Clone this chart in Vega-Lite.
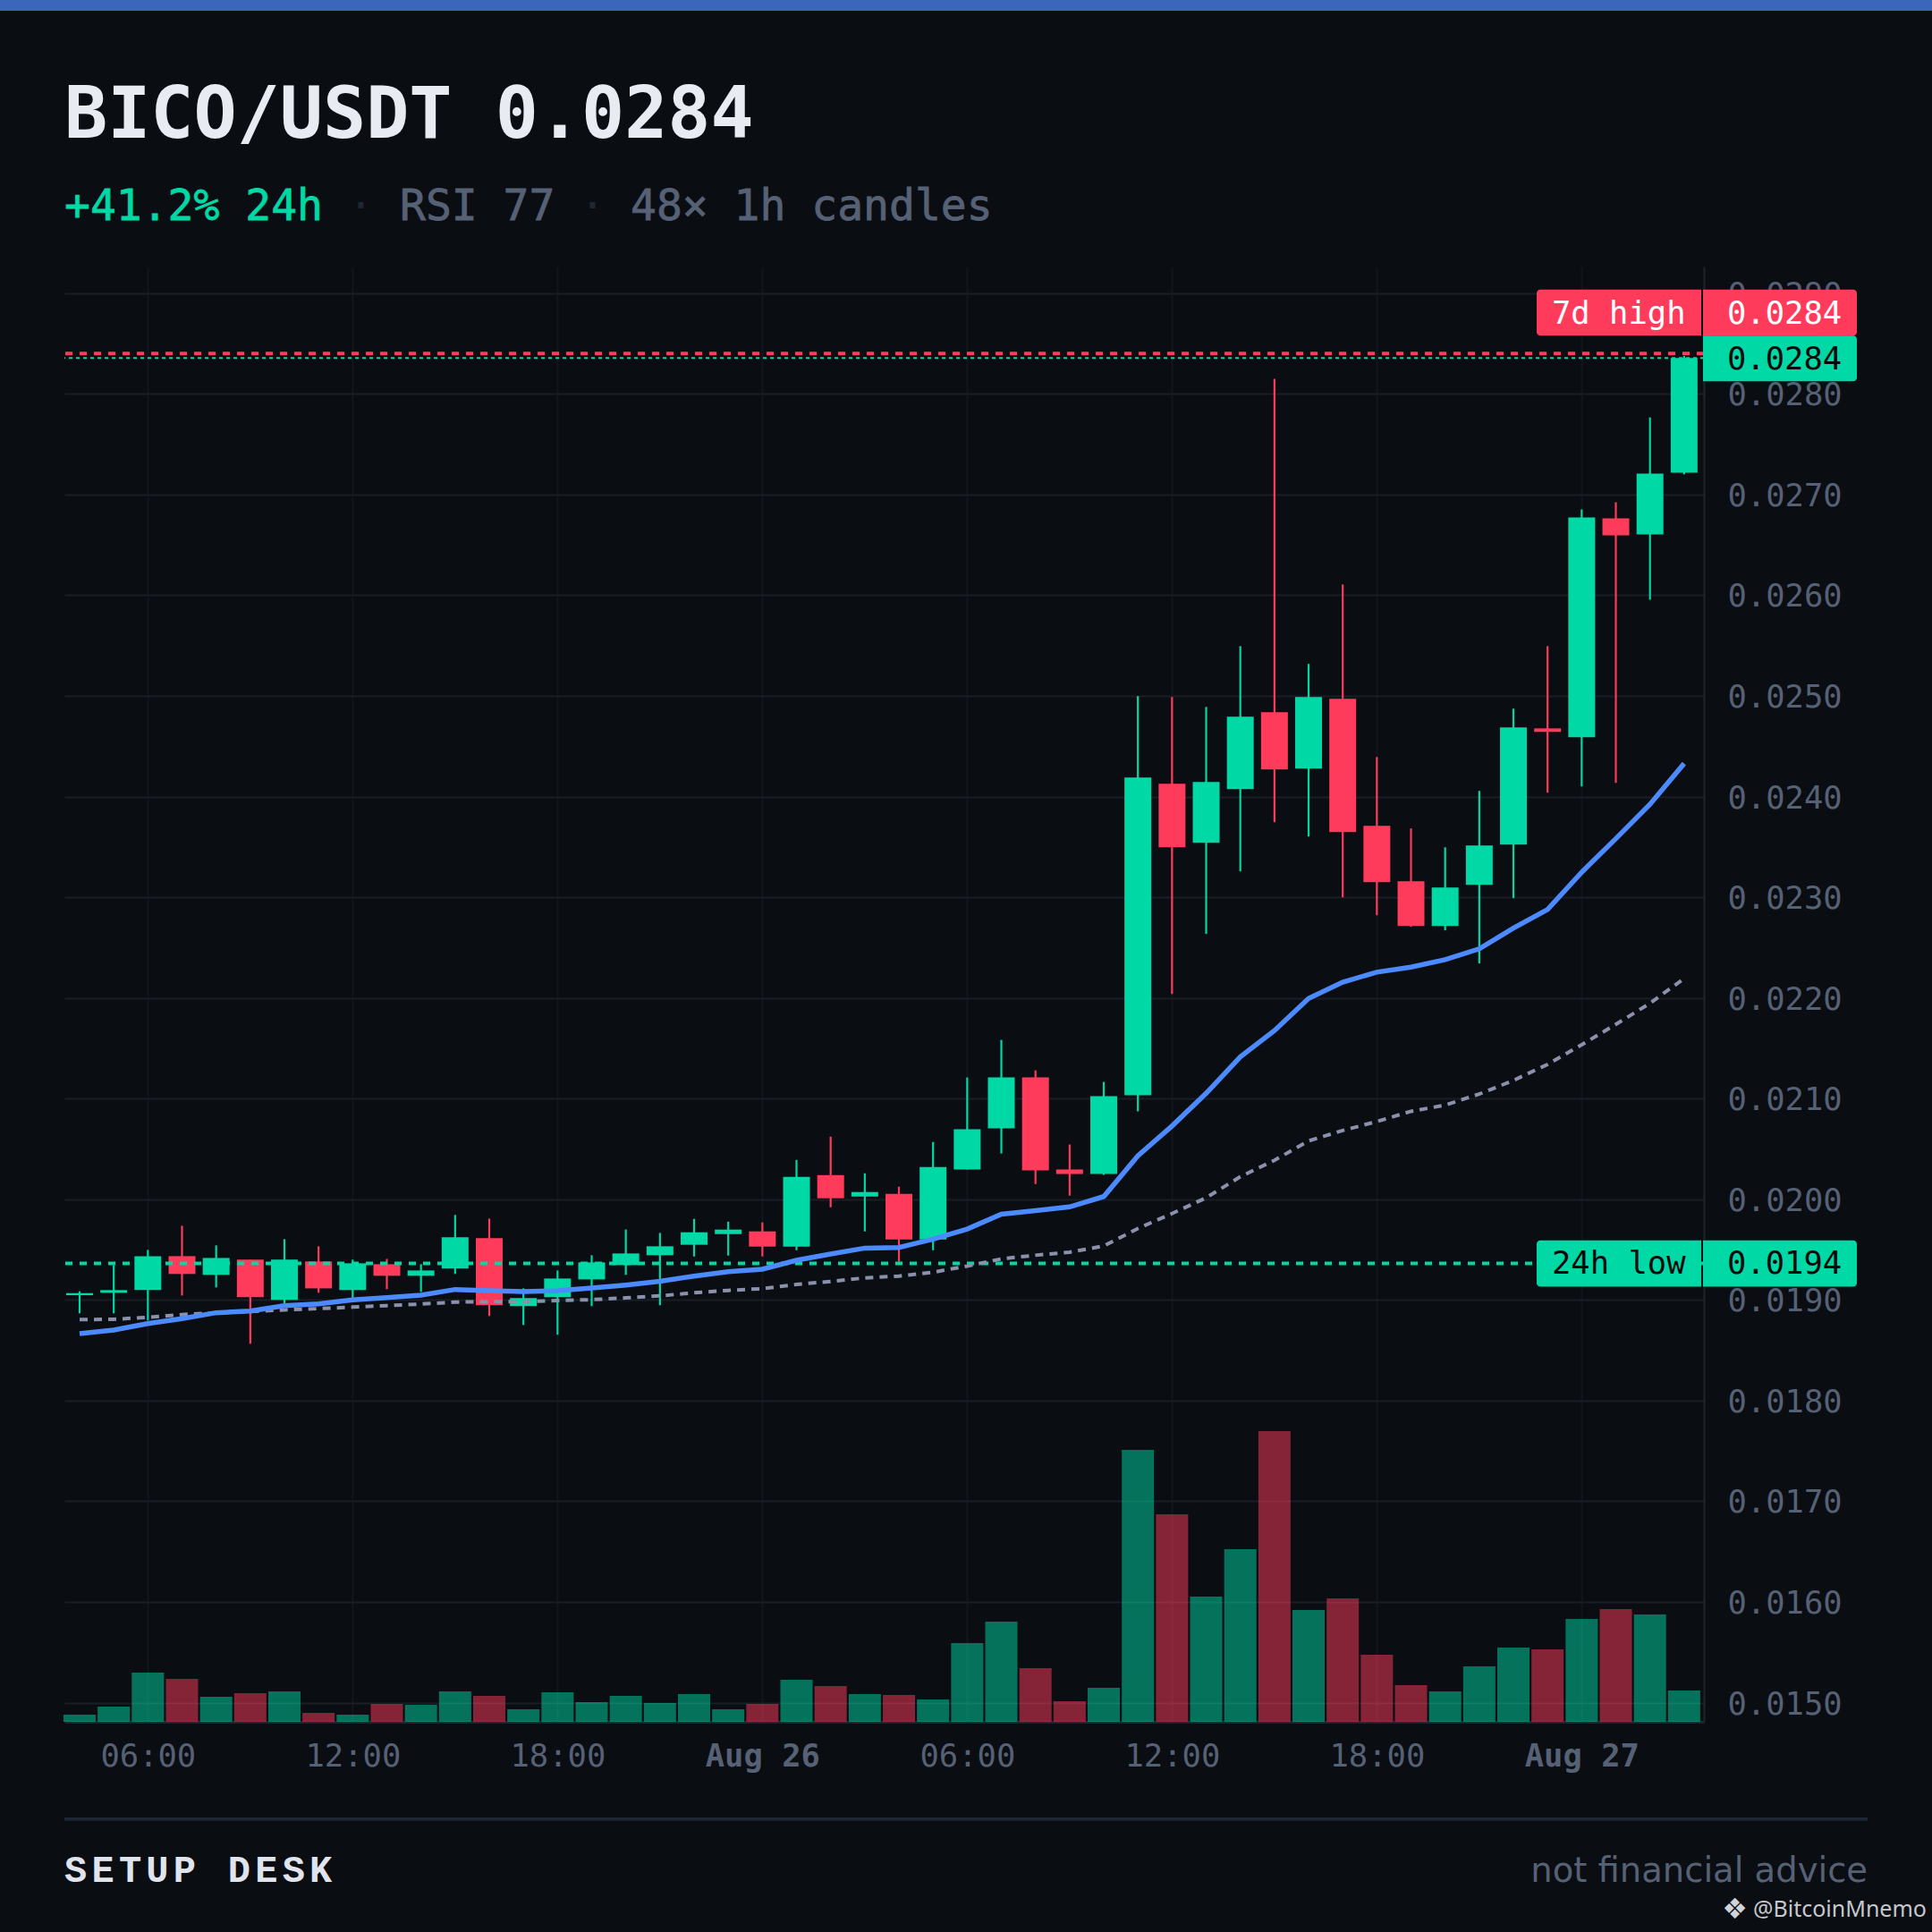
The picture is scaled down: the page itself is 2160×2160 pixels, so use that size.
{"$schema":"https://vega.github.io/schema/vega-lite/v6.json","width":1833,"height":1627,"autosize":{"type":"none"},"padding":{"left":72,"top":298,"right":255,"bottom":235},"background":"#0a0d12","config":{"view":{"stroke":null}},
"datasets":{"candles":[
{"t":"2025-08-25T04:00:00Z","o":0.019047,"h":0.019086,"l":0.018867,"c":0.019068,"dir":"up","vol":8,"ema20":0.018666,"ema50":0.018805},
{"t":"2025-08-25T05:00:00Z","o":0.019071,"h":0.019346,"l":0.018867,"c":0.019098,"dir":"up","vol":17,"ema20":0.018701,"ema50":0.018808},
{"t":"2025-08-25T06:00:00Z","o":0.019098,"h":0.019497,"l":0.018796,"c":0.019435,"dir":"up","vol":55,"ema20":0.018766,"ema50":0.018828},
{"t":"2025-08-25T07:00:00Z","o":0.019435,"h":0.019737,"l":0.019044,"c":0.019258,"dir":"down","vol":48,"ema20":0.018814,"ema50":0.018855},
{"t":"2025-08-25T08:00:00Z","o":0.019249,"h":0.019542,"l":0.019124,"c":0.019417,"dir":"up","vol":28,"ema20":0.018873,"ema50":0.018873},
{"t":"2025-08-25T09:00:00Z","o":0.0194,"h":0.0194,"l":0.018565,"c":0.019027,"dir":"down","vol":32,"ema20":0.01889,"ema50":0.018885},
{"t":"2025-08-25T10:00:00Z","o":0.019,"h":0.019604,"l":0.018962,"c":0.0194,"dir":"up","vol":34,"ema20":0.018944,"ema50":0.018902},
{"t":"2025-08-25T11:00:00Z","o":0.019382,"h":0.019533,"l":0.019071,"c":0.019115,"dir":"down","vol":10,"ema20":0.018962,"ema50":0.018914},
{"t":"2025-08-25T12:00:00Z","o":0.019098,"h":0.0194,"l":0.019018,"c":0.019364,"dir":"up","vol":8,"ema20":0.019,"ema50":0.018929},
{"t":"2025-08-25T13:00:00Z","o":0.019355,"h":0.019408,"l":0.019107,"c":0.01924,"dir":"down","vol":20,"ema20":0.019024,"ema50":0.018944},
{"t":"2025-08-25T14:00:00Z","o":0.01924,"h":0.019355,"l":0.01908,"c":0.019293,"dir":"up","vol":19,"ema20":0.019047,"ema50":0.018959},
{"t":"2025-08-25T15:00:00Z","o":0.019311,"h":0.019844,"l":0.019258,"c":0.019622,"dir":"up","vol":34,"ema20":0.019104,"ema50":0.018979},
{"t":"2025-08-25T16:00:00Z","o":0.019613,"h":0.019808,"l":0.01884,"c":0.018947,"dir":"down","vol":29,"ema20":0.019092,"ema50":0.018982},
{"t":"2025-08-25T17:00:00Z","o":0.018938,"h":0.019115,"l":0.018751,"c":0.019018,"dir":"up","vol":14,"ema20":0.019083,"ema50":0.018985},
{"t":"2025-08-25T18:00:00Z","o":0.019027,"h":0.019293,"l":0.018654,"c":0.019213,"dir":"up","vol":33,"ema20":0.019092,"ema50":0.018994},
{"t":"2025-08-25T19:00:00Z","o":0.019204,"h":0.019444,"l":0.018938,"c":0.019373,"dir":"up","vol":22,"ema20":0.019118,"ema50":0.019003},
{"t":"2025-08-25T20:00:00Z","o":0.019346,"h":0.0197,"l":0.019249,"c":0.019462,"dir":"up","vol":29,"ema20":0.019148,"ema50":0.019021},
{"t":"2025-08-25T21:00:00Z","o":0.019444,"h":0.019666,"l":0.018947,"c":0.019533,"dir":"up","vol":21,"ema20":0.019185,"ema50":0.019041},
{"t":"2025-08-25T22:00:00Z","o":0.019548,"h":0.019805,"l":0.019432,"c":0.019672,"dir":"up","vol":31,"ema20":0.019237,"ema50":0.019071},
{"t":"2025-08-25T23:00:00Z","o":0.019654,"h":0.019778,"l":0.019441,"c":0.019699,"dir":"up","vol":14,"ema20":0.019281,"ema50":0.019095},
{"t":"2025-08-26T00:00:00Z","o":0.019681,"h":0.01977,"l":0.019432,"c":0.01953,"dir":"down","vol":20,"ema20":0.019305,"ema50":0.019112},
{"t":"2025-08-26T01:00:00Z","o":0.01953,"h":0.020391,"l":0.019494,"c":0.020222,"dir":"up","vol":47,"ema20":0.019394,"ema50":0.019154},
{"t":"2025-08-26T02:00:00Z","o":0.02024,"h":0.020622,"l":0.01992,"c":0.02001,"dir":"down","vol":40,"ema20":0.019456,"ema50":0.019184},
{"t":"2025-08-26T03:00:00Z","o":0.020027,"h":0.020258,"l":0.019681,"c":0.020072,"dir":"up","vol":31,"ema20":0.019515,"ema50":0.019219},
{"t":"2025-08-26T04:00:00Z","o":0.020054,"h":0.020125,"l":0.019379,"c":0.019601,"dir":"down","vol":30,"ema20":0.019521,"ema50":0.019237},
{"t":"2025-08-26T05:00:00Z","o":0.019601,"h":0.020569,"l":0.019494,"c":0.02032,"dir":"up","vol":25,"ema20":0.019604,"ema50":0.019275},
{"t":"2025-08-26T06:00:00Z","o":0.020296,"h":0.02121,"l":0.020296,"c":0.020695,"dir":"up","vol":88,"ema20":0.019704,"ema50":0.019337},
{"t":"2025-08-26T07:00:00Z","o":0.020704,"h":0.021583,"l":0.020455,"c":0.02121,"dir":"up","vol":112,"ema20":0.019852,"ema50":0.019408},
{"t":"2025-08-26T08:00:00Z","o":0.02121,"h":0.021281,"l":0.020151,"c":0.020287,"dir":"down","vol":60,"ema20":0.019888,"ema50":0.019444},
{"t":"2025-08-26T09:00:00Z","o":0.020296,"h":0.020544,"l":0.020036,"c":0.020251,"dir":"down","vol":23,"ema20":0.019924,"ema50":0.019474},
{"t":"2025-08-26T10:00:00Z","o":0.020251,"h":0.021166,"l":0.020242,"c":0.021024,"dir":"up","vol":38,"ema20":0.020027,"ema50":0.019536},
{"t":"2025-08-26T11:00:00Z","o":0.021033,"h":0.024997,"l":0.020873,"c":0.024189,"dir":"up","vol":304,"ema20":0.020432,"ema50":0.01971},
{"t":"2025-08-26T12:00:00Z","o":0.024127,"h":0.024988,"l":0.02204,"c":0.023496,"dir":"down","vol":232,"ema20":0.020728,"ema50":0.019858},
{"t":"2025-08-26T13:00:00Z","o":0.023541,"h":0.02489,"l":0.022635,"c":0.024145,"dir":"up","vol":140,"ema20":0.021053,"ema50":0.020015},
{"t":"2025-08-26T14:00:00Z","o":0.024074,"h":0.025494,"l":0.023257,"c":0.024793,"dir":"up","vol":193,"ema20":0.021414,"ema50":0.020224},
{"t":"2025-08-26T15:00:00Z","o":0.024837,"h":0.02815,"l":0.023745,"c":0.024269,"dir":"down","vol":325,"ema20":0.021675,"ema50":0.020387},
{"t":"2025-08-26T16:00:00Z","o":0.024278,"h":0.025317,"l":0.023603,"c":0.024988,"dir":"up","vol":125,"ema20":0.021995,"ema50":0.02058},
{"t":"2025-08-26T17:00:00Z","o":0.02497,"h":0.026106,"l":0.022999,"c":0.023647,"dir":"down","vol":138,"ema20":0.022157,"ema50":0.020683},
{"t":"2025-08-26T18:00:00Z","o":0.023709,"h":0.024393,"l":0.022821,"c":0.02315,"dir":"down","vol":75,"ema20":0.022256,"ema50":0.020772},
{"t":"2025-08-26T19:00:00Z","o":0.023159,"h":0.023683,"l":0.022706,"c":0.022715,"dir":"down","vol":41,"ema20":0.022306,"ema50":0.020874},
{"t":"2025-08-26T20:00:00Z","o":0.022715,"h":0.023496,"l":0.022671,"c":0.023097,"dir":"up","vol":34,"ema20":0.02238,"ema50":0.020935},
{"t":"2025-08-26T21:00:00Z","o":0.023123,"h":0.024056,"l":0.022342,"c":0.023514,"dir":"up","vol":62,"ema20":0.022487,"ema50":0.021045},
{"t":"2025-08-26T22:00:00Z","o":0.023523,"h":0.024873,"l":0.02299,"c":0.024686,"dir":"up","vol":83,"ema20":0.022694,"ema50":0.02118},
{"t":"2025-08-26T23:00:00Z","o":0.024677,"h":0.025494,"l":0.024038,"c":0.024642,"dir":"down","vol":81,"ema20":0.022878,"ema50":0.02134},
{"t":"2025-08-27T00:00:00Z","o":0.024589,"h":0.026852,"l":0.0241,"c":0.026772,"dir":"up","vol":115,"ema20":0.023248,"ema50":0.021535},
{"t":"2025-08-27T01:00:00Z","o":0.026763,"h":0.026923,"l":0.024136,"c":0.026594,"dir":"down","vol":126,"ema20":0.023582,"ema50":0.021737},
{"t":"2025-08-27T02:00:00Z","o":0.026603,"h":0.027766,"l":0.025955,"c":0.027207,"dir":"up","vol":120,"ema20":0.023923,"ema50":0.021947},
{"t":"2025-08-27T03:00:00Z","o":0.027216,"h":0.028376,"l":0.0272,"c":0.028355,"dir":"up","vol":35,"ema20":0.024328,"ema50":0.022192}
],
"tags":[
{"label":"7d high","value":"0.0284","dir":"down","top":0.029036,"bottom":0.028577,"mid":0.028805},
{"label":"","value":"0.0284","dir":"up","top":0.028577,"bottom":0.028124,"mid":0.02835},
{"label":"24h low","value":"0.0194","dir":"up","top":0.019592,"bottom":0.019133,"mid":0.019364}
]},
"data":{"name":"candles"},
"resolve":{"scale":{"y":"independent"}},
"layer":[
{"mark":{"type":"bar","width":36,"opacity":0.5},
 "encoding":{
  "x":{"field":"t","type":"temporal","scale":{"type":"utc","padding":0,"domain":[1756092798000,1756265688000]},
   "axis":{"title":null,"values":[1756101600000,1756123200000,1756144800000,1756166400000,1756188000000,1756209600000,1756231200000,1756252800000],"labelExpr":"utchours(datum.value)==0?utcFormat(datum.value,'%b %d'):utcFormat(datum.value,'%H:%M')","labelFont":"DejaVu Sans Mono","labelFontSize":35.5,"labelColor":"#566175","labelFontWeight":{"condition":{"test":"utchours(datum.value)==0","value":"bold"},"value":"normal"},"labelPadding":21,"labelOverlap":false,"labelFlush":false,"ticks":false,"grid":true,"gridColor":"#12161c","gridWidth":2,"domainColor":"#1f2630","domainWidth":3}},
  "y":{"field":"vol","type":"quantitative","stack":null,"scale":{"domain":[0,1627],"nice":false,"zero":true},"axis":null},
  "color":{"field":"dir","type":"nominal","scale":{"domain":["up","down"],"range":["#00d9a5","#ff3b5c"]},"legend":null}}},
{"layer":[
 {"mark":{"type":"rule","strokeWidth":2.2},
  "encoding":{
   "x":{"field":"t","type":"temporal","scale":{"type":"utc","padding":0,"domain":[1756092798000,1756265688000]}},
   "y":{"field":"l","type":"quantitative","scale":{"domain":[0.01481,0.029264],"nice":false,"zero":false},
    "axis":{"title":null,"orient":"right","values":[0.015,0.016,0.017,0.018,0.019,0.02,0.021,0.022,0.023,0.024,0.025,0.026,0.027,0.028,0.029],"format":".4f","labelFont":"DejaVu Sans Mono","labelFontSize":35.5,"labelColor":"#566175","labelPadding":26,"labelOffset":1.5,"labelAlign":"left","labelOverlap":false,"labelFlush":false,"ticks":false,"grid":true,"gridColor":"#1a1e24","gridWidth":2,"domainColor":"#1f2630","domainWidth":2}},
   "y2":{"field":"h"},
   "color":{"field":"dir","type":"nominal","legend":null}}},
 {"mark":{"type":"bar","width":30},
  "encoding":{
   "x":{"field":"t","type":"temporal","scale":{"type":"utc","padding":0,"domain":[1756092798000,1756265688000]}},
   "y":{"field":"o","type":"quantitative"},
   "y2":{"field":"c"},
   "color":{"field":"dir","type":"nominal","legend":null}}},
 {"data":{"values":[{"price":0.0284}]},"mark":{"type":"rule","color":"#ff3b5c","strokeWidth":4,"strokeDash":[8,8]},"encoding":{"y":{"field":"price","type":"quantitative"}}},
 {"data":{"values":[{"price":0.028355}]},"mark":{"type":"rule","color":"#00d9a5","strokeWidth":2,"strokeDash":[4,4]},"encoding":{"y":{"field":"price","type":"quantitative"}}},
 {"data":{"values":[{"price":0.019364}]},"mark":{"type":"rule","color":"#00d9a5","strokeWidth":4,"strokeDash":[8,8]},"encoding":{"y":{"field":"price","type":"quantitative"}}},
 {"mark":{"type":"line","color":"#8b91ac","strokeWidth":4,"strokeDash":[9,7]},
  "encoding":{"x":{"field":"t","type":"temporal","scale":{"type":"utc","padding":0,"domain":[1756092798000,1756265688000]}},"y":{"field":"ema50","type":"quantitative"}}},
 {"mark":{"type":"line","color":"#4c8bff","strokeWidth":5.5},
  "encoding":{"x":{"field":"t","type":"temporal","scale":{"type":"utc","padding":0,"domain":[1756092798000,1756265688000]}},"y":{"field":"ema20","type":"quantitative"}}},
 {"data":{"name":"tags"},"transform":[{"filter":"datum.label!==''"}],"mark":{"type":"rect","cornerRadiusTopLeft":4,"cornerRadiusBottomLeft":4},
  "encoding":{"x":{"value":1646},"x2":{"value":1830},"y":{"field":"top","type":"quantitative"},"y2":{"field":"bottom"},"color":{"field":"dir","type":"nominal","legend":null}}},
 {"data":{"name":"tags"},"mark":{"type":"rect","cornerRadiusTopRight":4,"cornerRadiusBottomRight":4},
  "encoding":{"x":{"value":1832},"x2":{"value":2004},"y":{"field":"top","type":"quantitative"},"y2":{"field":"bottom"},"color":{"field":"dir","type":"nominal","legend":null}}},
 {"data":{"name":"tags"},"mark":{"type":"text","font":"DejaVu Sans Mono","fontSize":35.5,"align":"left","baseline":"middle","dy":1},
  "encoding":{"x":{"value":1663},"y":{"field":"mid","type":"quantitative"},"text":{"field":"label"},"color":{"condition":{"test":"datum.dir==='down'","value":"#ffffff"},"value":"#05080a"}}},
 {"data":{"name":"tags"},"mark":{"type":"text","font":"DejaVu Sans Mono","fontSize":35.5,"align":"left","baseline":"middle","dy":1},
  "encoding":{"x":{"value":1859},"y":{"field":"mid","type":"quantitative"},"text":{"field":"value"},"color":{"condition":{"test":"datum.dir==='down'","value":"#ffffff"},"value":"#05080a"}}},
 {"data":{"values":[{"s":""}]},"mark":{"type":"rect","color":"#3a67ba"},"encoding":{"x":{"value":-72},"x2":{"value":2088},"y":{"value":-298},"y2":{"value":-286}}},
 {"data":{"values":[{"s":""}]},"mark":{"type":"rect","color":"#1f2732"},"encoding":{"x":{"value":0},"x2":{"value":2016},"y":{"value":1734},"y2":{"value":1737.5}}},
 {"data":{"values":[{"s":"BICO/USDT 0.0284"}]},"mark":{"type":"text","font":"DejaVu Sans Mono","fontWeight":"bold","fontSize":80,"align":"left","baseline":"alphabetic","color":"#e8ebf2"},"encoding":{"x":{"value":0},"y":{"value":-144},"text":{"field":"s"}}},
 {"data":{"values":[{"s":"+41.2% 24h"}]},"mark":{"type":"text","font":"DejaVu Sans Mono","fontSize":48,"align":"left","baseline":"alphabetic","color":"#00d9a5","stroke":"#00d9a5","strokeWidth":0.8},"encoding":{"x":{"value":0},"y":{"value":-52},"text":{"field":"s"}}},
 {"data":{"values":[{"s":"·"}]},"mark":{"type":"text","font":"DejaVu Sans Mono","fontSize":48,"align":"left","baseline":"alphabetic","color":"#1e2733"},"encoding":{"x":{"value":317},"y":{"value":-52},"text":{"field":"s"}}},
 {"data":{"values":[{"s":"RSI 77"}]},"mark":{"type":"text","font":"DejaVu Sans Mono","fontSize":48,"align":"left","baseline":"alphabetic","color":"#566175","stroke":"#566175","strokeWidth":0.8},"encoding":{"x":{"value":375},"y":{"value":-52},"text":{"field":"s"}}},
 {"data":{"values":[{"s":"·"}]},"mark":{"type":"text","font":"DejaVu Sans Mono","fontSize":48,"align":"left","baseline":"alphabetic","color":"#1e2733"},"encoding":{"x":{"value":576},"y":{"value":-52},"text":{"field":"s"}}},
 {"data":{"values":[{"s":"48× 1h candles"}]},"mark":{"type":"text","font":"DejaVu Sans Mono","fontSize":48,"align":"left","baseline":"alphabetic","color":"#566175","stroke":"#566175","strokeWidth":0.8},"encoding":{"x":{"value":633},"y":{"value":-52},"text":{"field":"s"}}},
 {"data":{"values":[{"s":"S\u200a\u200aE\u200a\u200aT\u200a\u200aU\u200a\u200aP\u200a\u200a \u200a\u200aD\u200a\u200aE\u200a\u200aS\u200a\u200aK"}]},"mark":{"type":"text","font":"Liberation Mono","fontWeight":"bold","fontSize":42,"align":"left","baseline":"alphabetic","color":"#e0e4ec"},"encoding":{"x":{"value":0},"y":{"value":1806},"text":{"field":"s"}}},
 {"data":{"values":[{"s":"not financial advice"}]},"mark":{"type":"text","font":"DejaVu Sans","fontSize":38.5,"align":"right","baseline":"alphabetic","color":"#566175"},"encoding":{"x":{"value":2016},"y":{"value":1806},"text":{"field":"s"}}},
 {"data":{"values":[{"s":"❖"}]},"mark":{"type":"text","font":"DejaVu Sans","fontSize":32,"align":"right","baseline":"alphabetic","color":"#d0d3d8"},"encoding":{"x":{"value":1882},"y":{"value":1847},"text":{"field":"s"}}},
 {"data":{"values":[{"s":"@BitcoinMnemo"}]},"mark":{"type":"text","font":"Noto Sans","fontSize":25,"align":"left","baseline":"alphabetic","color":"#c5c8cc"},"encoding":{"x":{"value":1888},"y":{"value":1845},"text":{"field":"s"}}}
]}
]}
